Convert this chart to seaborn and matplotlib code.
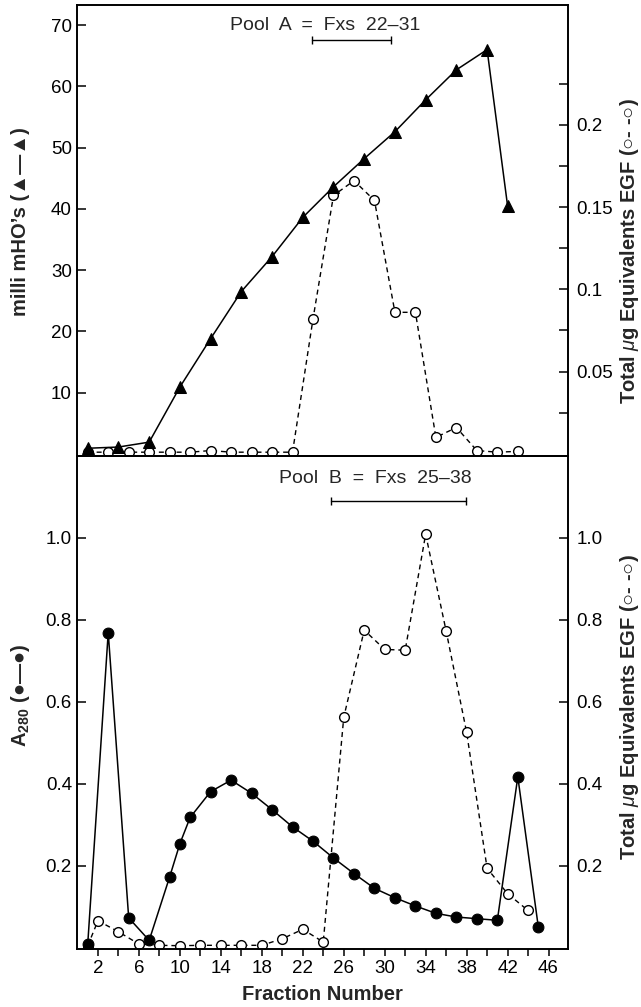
import seaborn as sns
import matplotlib.pyplot as plt
from matplotlib.ticker import FixedLocator, FuncFormatter

# ---- top panel: conductivity (filled triangles, left) + EGF (open circles, right)
cond_fx = [1, 4, 7, 10, 13, 16, 19, 22, 25, 28, 31, 34, 37, 40, 42]
cond_mho = [0.9, 1.1, 1.9, 10.9, 18.8, 26.5, 32.2, 38.6, 43.6, 48.2, 52.6, 57.8, 62.7, 66.0, 40.5]

egf_a_fx = [1, 3, 5, 7, 9, 11, 13, 15, 17, 19, 21, 23, 25, 27, 29, 31, 33, 35, 37, 39, 41, 43]
egf_a = [0.001, 0.001, 0.001, 0.001, 0.001, 0.001, 0.002, 0.001, 0.001, 0.001, 0.001,
         0.082, 0.157, 0.166, 0.154, 0.086, 0.086, 0.010, 0.016, 0.002, 0.001, 0.0015]

# ---- bottom panel: A280 (filled circles, left) + EGF (open circles, right)
a280_fx = [1, 3, 5, 7, 9, 10, 11, 13, 15, 17, 19, 21, 23, 25, 27, 29, 31, 33, 35, 37, 39, 41, 43, 45]
a280 = [0.009, 0.769, 0.073, 0.018, 0.173, 0.254, 0.318, 0.381, 0.409, 0.377, 0.337, 0.295,
        0.260, 0.219, 0.181, 0.145, 0.122, 0.102, 0.084, 0.075, 0.071, 0.067, 0.417, 0.051]

egf_b_fx = [1, 2, 4, 6, 8, 10, 12, 14, 16, 18, 20, 22, 24, 26, 28, 30, 32, 34, 36, 38, 40, 42, 44]
egf_b = [0.005, 0.066, 0.039, 0.009, 0.006, 0.005, 0.006, 0.006, 0.006, 0.006, 0.022, 0.045,
         0.014, 0.562, 0.775, 0.728, 0.726, 1.009, 0.773, 0.526, 0.194, 0.132, 0.091]

pool_a = [22.9, 30.6]
pool_b = [24.8, 37.9]

sns.set_style('ticks')
plt.rcParams['font.family'] = ['Liberation Sans', 'DejaVu Sans']
plt.rcParams['mathtext.fontset'] = 'custom'
plt.rcParams['mathtext.rm'] = 'Liberation Sans'
plt.rcParams['mathtext.it'] = 'Liberation Sans:italic'
plt.rcParams['mathtext.bf'] = 'Liberation Sans:bold'
plt.rcParams['lines.dashed_pattern'] = [3.6, 2.8]
plt.rcParams['axes.edgecolor'] = 'black'
plt.rcParams['axes.linewidth'] = 1.2
plt.rcParams['xtick.color'] = 'black'
plt.rcParams['ytick.color'] = 'black'

fig = plt.figure(figsize=(6.41, 10.07), dpi=100)
ax1 = fig.add_axes([0.1209, 0.5472, 0.7652, 0.4479])
ax2 = fig.add_axes([0.1209, 0.0576, 0.7652, 0.4896])
ax1r = ax1.twinx()
ax2r = ax2.twinx()

filled_kw = dict(color='black', linewidth=1.1, markeredgecolor='black', markerfacecolor='black')
open_kw = dict(color='black', linewidth=1.0, linestyle='--', marker='o', markersize=7,
               markerfacecolor='white', markeredgecolor='black', markeredgewidth=1.0)

sns.lineplot(x=cond_fx, y=cond_mho, ax=ax1, marker='^', markersize=8.5, **filled_kw)
sns.lineplot(x=egf_a_fx, y=egf_a, ax=ax1r, **open_kw)
sns.lineplot(x=a280_fx, y=a280, ax=ax2, marker='o', markersize=7.8, **filled_kw)
sns.lineplot(x=egf_b_fx, y=egf_b, ax=ax2r, **open_kw)

# filled series drawn above the open ones
for a, t in [(ax1, ax1r), (ax2, ax2r)]:
    a.set_zorder(t.get_zorder() + 1)
    a.patch.set_visible(False)

# limits
for a in (ax1, ax2):
    a.set_xlim(0, 47.9)
ax1.set_ylim(-0.36, 73.3)
ax1r.set_ylim(-0.0013, 0.2728)
ax2.set_ylim(-0.003, 1.2)
ax2r.set_ylim(-0.003, 1.2)

# ticks
tick_kw = dict(direction='in', length=6.5, width=1.1, labelsize=13.5)
ax1.set_yticks([10, 20, 30, 40, 50, 60, 70])
ax1.tick_params(axis='y', pad=4, **tick_kw)
ax1.tick_params(axis='x', bottom=False, labelbottom=False)

ax1r.yaxis.set_major_locator(FixedLocator([0.05, 0.1, 0.15, 0.2]))
ax1r.yaxis.set_minor_locator(FixedLocator([0.025, 0.075, 0.125, 0.175, 0.225]))
ax1r.yaxis.set_major_formatter(FuncFormatter(lambda v, p: f'{v:g}'))
ax1r.tick_params(axis='y', which='both', pad=6, **tick_kw)

ax2.set_yticks([0.2, 0.4, 0.6, 0.8, 1.0])
ax2.yaxis.set_major_formatter(FuncFormatter(lambda v, p: f'{v:.1f}'))
ax2.tick_params(axis='y', pad=4, **tick_kw)
ax2r.set_yticks([0.2, 0.4, 0.6, 0.8, 1.0])
ax2r.yaxis.set_major_formatter(FuncFormatter(lambda v, p: f'{v:.1f}'))
ax2r.tick_params(axis='y', pad=6, **tick_kw)

ax2.xaxis.set_major_locator(FixedLocator([2, 6, 10, 14, 18, 22, 26, 30, 34, 38, 42, 46]))
ax2.xaxis.set_minor_locator(FixedLocator([4, 8, 12, 16, 20, 24, 28, 32, 36, 40, 44]))
ax2.tick_params(axis='x', which='both', direction='out', length=5, width=1.1,
                labelsize=13.5, pad=3, top=False)

# axis labels
lab_kw = dict(fontsize=14.5, fontweight='bold', rotation=90, ha='center', va='center')
ax1.text(-0.117, 0.52, 'milli mHO’s (▲—▲)', transform=ax1.transAxes, **lab_kw)
ax1r.text(1.125, 0.455, r'Total $\mu$g Equivalents EGF (○- -○)', transform=ax1r.transAxes, **lab_kw)
ax2.text(-0.117, 0.515, r'$\mathbf{A}_{\mathbf{280}}$ (●—●)', transform=ax2.transAxes, **lab_kw)
ax2r.text(1.125, 0.49, r'Total $\mu$g Equivalents EGF (○- -○)', transform=ax2r.transAxes, **lab_kw)
ax2.set_xlabel('Fraction Number', fontsize=14.5, fontweight='bold', labelpad=6)
ax1.set_ylabel('')
ax2.set_ylabel('')

# pooled fraction bars
ax1.text(24.15, 70.0, 'Pool  A  =  Fxs  22–31', fontsize=14, ha='center', va='center')
sns.lineplot(x=pool_a, y=[67.6, 67.6], ax=ax1, color='black', linewidth=1.0,
             marker='|', markersize=6, markeredgecolor='black', markeredgewidth=1.0)
ax2.text(29.1, 1.146, 'Pool  B  =  Fxs  25–38', fontsize=14, ha='center', va='center')
sns.lineplot(x=pool_b, y=[1.09, 1.09], ax=ax2, color='black', linewidth=1.0,
             marker='|', markersize=6, markeredgecolor='black', markeredgewidth=1.0)

fig.savefig('out.png', dpi=100)
